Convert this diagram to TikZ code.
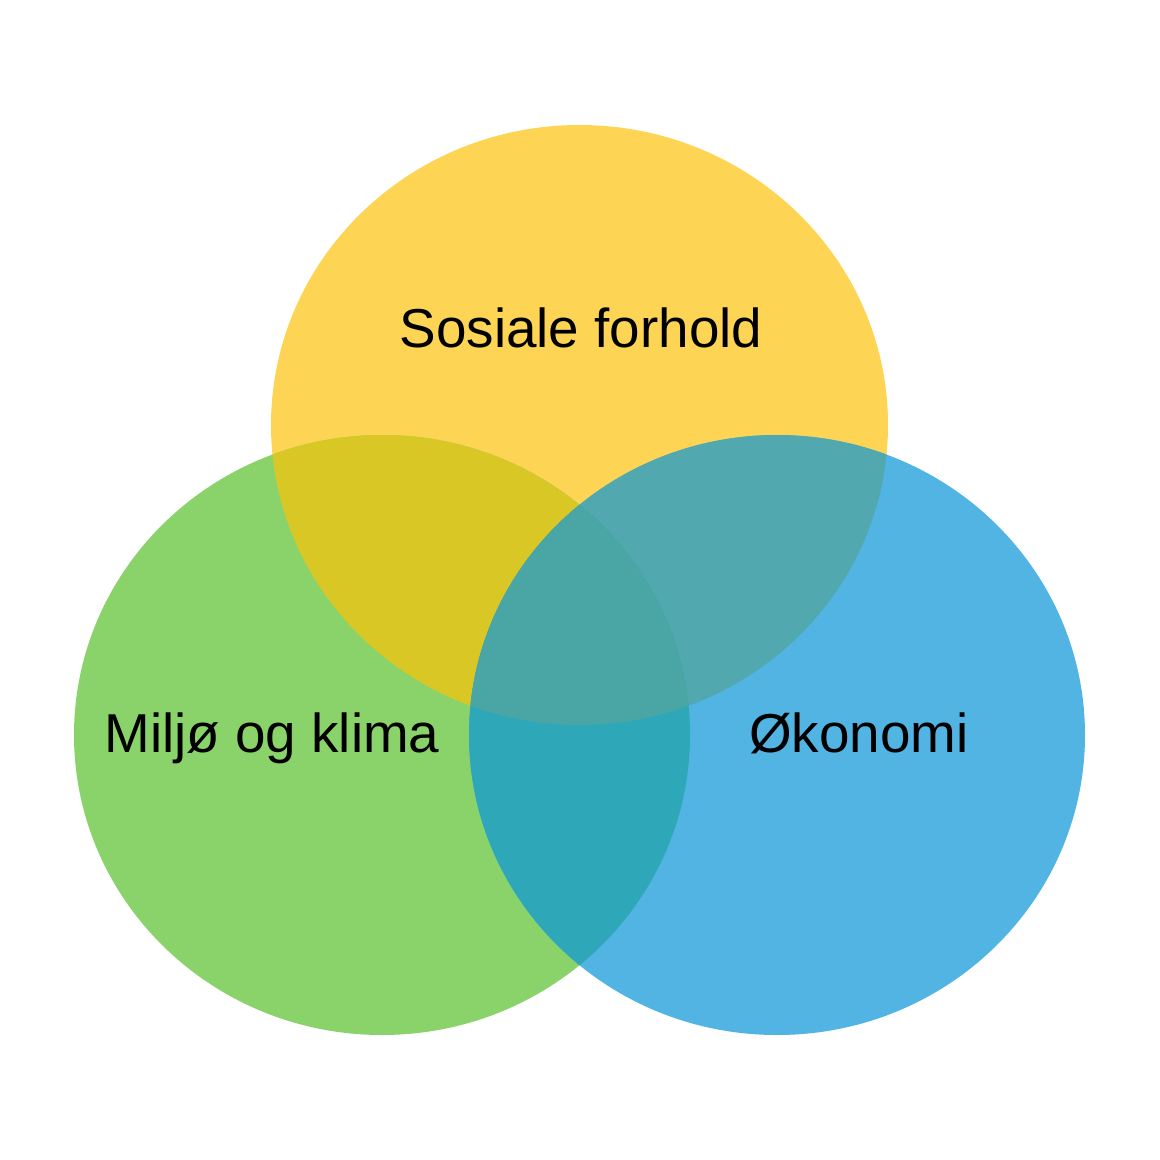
\documentclass[tikz,border=0pt]{standalone}
\usepackage{fontspec}
\setmainfont{Liberation Sans}
\usepackage{tikz}
\usetikzlibrary{positioning}
\definecolor{myyellow}{HTML}{FDD453}
\definecolor{mygreen}{HTML}{8AD36B}
\definecolor{myblue}{HTML}{51B4E3}
\definecolor{mixyg}{HTML}{D9C725}
\definecolor{mixyb}{HTML}{51A8AF}
\definecolor{mixgb}{HTML}{2EA8B8}
\definecolor{mixall}{HTML}{4AA5A5}
\newcommand{\sosialring}{(5.795,-4.25) ellipse (3.085 and 3.0)}
\newcommand{\miljoring}{(3.82,-7.35) ellipse (3.08 and 3.0)}
\newcommand{\okonomiring}{(7.77,-7.35) ellipse (3.08 and 3.0)}
\tikzset{
  label/.style={font=\fontsize{15.6pt}{18pt}\selectfont, text=black,
    anchor=base, inner sep=0pt}
}

\begin{document}
\begin{tikzpicture}
  \useasboundingbox (0,0) rectangle (11.6,-11.6);
  % Circles
  \fill[myyellow] \sosialring;
  \fill[mygreen] \miljoring;
  \fill[myblue] \okonomiring;

  % Overlaps
  \begin{scope}
    \clip \sosialring;
    \fill[mixyg] \miljoring;
    \fill[mixyb] \okonomiring;
  \end{scope}
  \begin{scope}
    \clip \miljoring;
    \fill[mixgb] \okonomiring;
  \end{scope}
  \begin{scope}
    \clip \sosialring;
    \clip \miljoring;
    \fill[mixall] \okonomiring;
  \end{scope}

  % Labels
  \node[label] (sosial) at (5.81,-3.47) {Sosiale forhold};
  \node[label] (miljo) at (2.72,-7.52) {Miljø og klima};
  \node[label] (okonomi) at (8.59,-7.52) {Økonomi};
\end{tikzpicture}
\end{document}
